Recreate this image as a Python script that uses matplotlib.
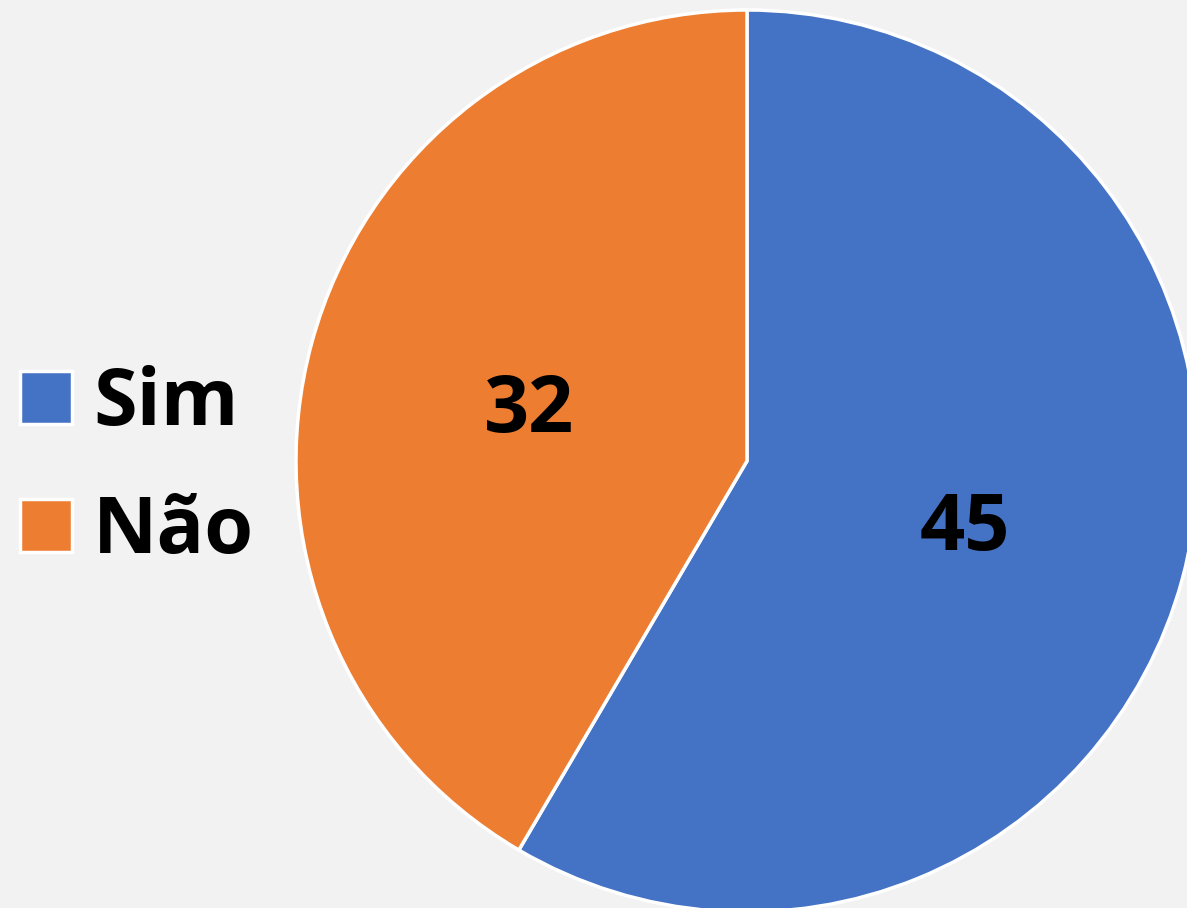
import numpy as np
import matplotlib.pyplot as plt
from matplotlib.patches import Patch

labels = ["Sim", "Não"]
values = [45, 32]
colors = ["#4472C4", "#ED7D31"]

plt.rcParams['font.family'] = ['Open Sans', 'DejaVu Sans']

fig = plt.figure(figsize=(11.87, 9.08), dpi=100)
fig.patch.set_facecolor("#F2F2F2")

# pie centre ~(747, 461) px, radius ~451 px
R = 451
ax = fig.add_axes([(747 - R) / 1187, (908 - 461 - R) / 908, 2 * R / 1187, 2 * R / 908])
ax.set_facecolor("none")

wedges, texts = ax.pie(values, colors=colors, startangle=90, counterclock=False,
                       radius=1.0, wedgeprops=dict(edgecolor="white", linewidth=2.5))
ax.set_xlim(-1, 1)
ax.set_ylim(-1, 1)
ax.set_aspect("auto")

cap = 60 / R  # cap height in data units
for w, v in zip(wedges, values):
    ang = np.deg2rad((w.theta1 + w.theta2) / 2)
    ax.text(0.5 * np.cos(ang), 0.5 * np.sin(ang) - cap / 2, str(v), ha="center", va="baseline",
            fontsize=57, fontweight="bold", color="black")

handles = [Patch(facecolor=c, edgecolor="white", linewidth=2.5) for c in colors]
leg = fig.legend(handles, labels, loc="center left", bbox_to_anchor=(0.017, 0.484),
                 frameon=False, prop=dict(weight="bold", size=57),
                 handlelength=0.66, handleheight=0.66, handletextpad=0.26,
                 labelspacing=0.62, borderaxespad=0, borderpad=0)

fig.savefig("out.png", dpi=100, facecolor=fig.get_facecolor())
